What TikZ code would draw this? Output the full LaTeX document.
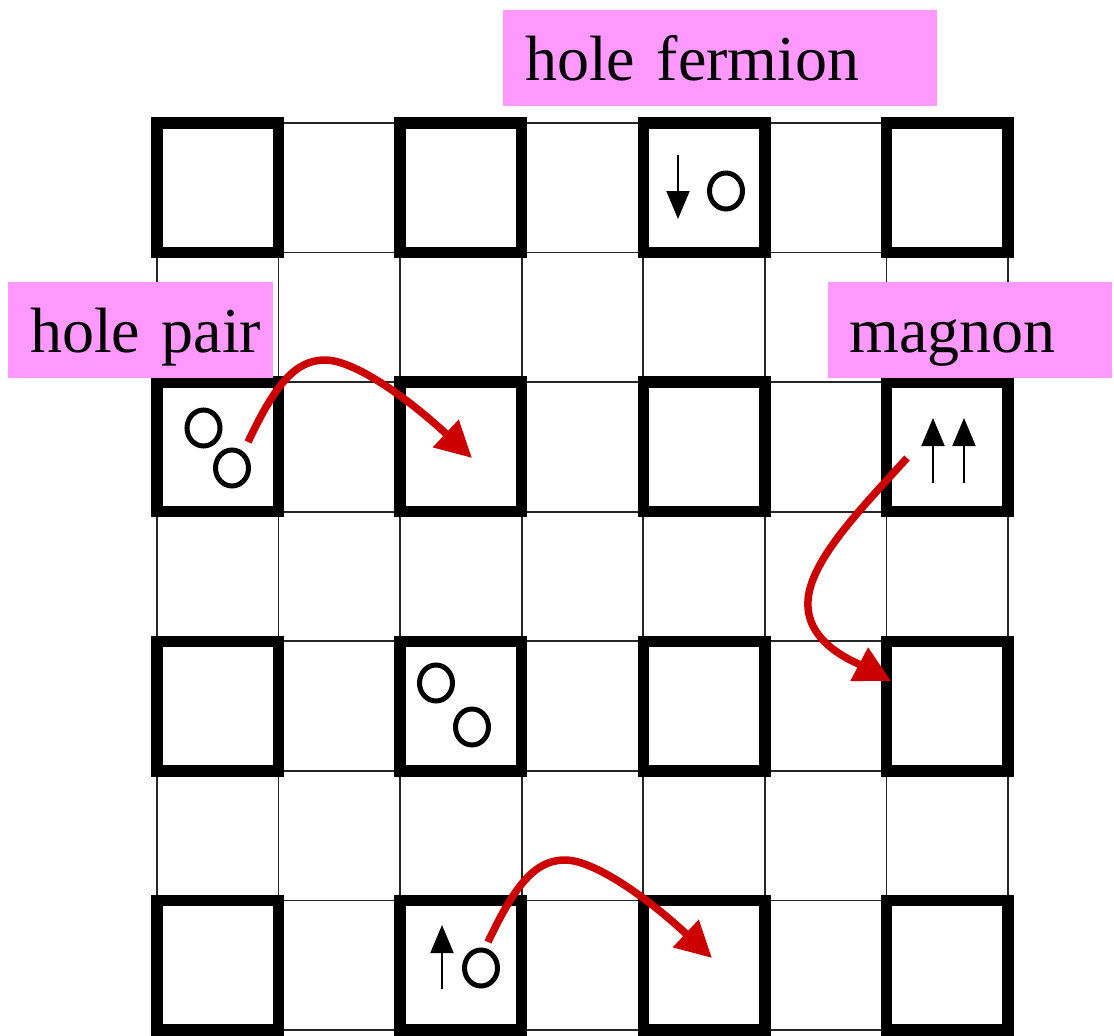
\documentclass[tikz,border=0pt]{standalone}
\usepackage{fontspec}
\setmainfont{Liberation Serif}
\usetikzlibrary{arrows.meta,shapes.geometric}
\definecolor{lblpink}{RGB}{255,153,255}
\definecolor{arrred}{RGB}{204,0,0}
\begin{document}
\begin{tikzpicture}[x=1pt,y=-1pt,
  gridline/.style={line width=1.8pt, black!85},
  site/.style={draw, line width=11.5pt, line join=miter, minimum width=121.57pt, minimum height=129.57pt, inner sep=0pt, outer sep=0pt},
  lbl/.style={fill=lblpink, inner xsep=0pt, inner ysep=0pt, anchor=north west, align=left, font=\fontsize{64pt}{70pt}\selectfont, text height=70pt, text depth=26pt},
  hole/.style={draw, ellipse, line width=5pt, minimum width=33pt, minimum height=36pt, inner sep=0pt},
  spin/.style={line width=2pt, -{Triangle[length=28pt,width=23pt]}},
  hop/.style={arrred, line width=7.5pt, -{Triangle[length=36pt,width=36pt]}}
]
\useasboundingbox (0,0) rectangle (1114,1036);
% thin lattice
\foreach \k in {0,...,7} {
  \draw[gridline] ({157+121.57*\k},123) -- ({157+121.57*\k},1040);
  \draw[gridline] (157,{123+129.57*\k}) -- (1008,{123+129.57*\k});
}
% thick plaquettes
\foreach \i in {0,1,2,3} {
  \foreach \j in {0,1,2,3} {
    \node[site] (s\i\j) at ({157+121.57*(2*\i+0.5)},{123+129.57*(2*\j+0.5)}) {};
  }
}
% labels
\node[lbl, text width=434pt] (fermion) at (503,10) {\hspace*{22pt}hole fermion};
\node[lbl, text width=265pt] (pair) at (8,282) {\hspace*{22pt}hole pair};
\node[lbl, text width=284pt] (magnon) at (828,282) {\hspace*{21pt}magnon};
% holes
\node[hole] (h1) at (726,191) {};
\node[hole] (h2a) at (203.5,428) {};
\node[hole] (h2b) at (232,468) {};
\node[hole] (h3a) at (436,683) {};
\node[hole] (h3b) at (472,727) {};
\node[hole] (h4) at (481,968) {};
% spins
\coordinate (d1s) at (678,155); \coordinate (d1e) at (678,219);
\coordinate (m1s) at (933,483); \coordinate (m1e) at (933,418);
\coordinate (m2s) at (964,483); \coordinate (m2e) at (964,418);
\coordinate (u1s) at (442,989); \coordinate (u1e) at (442,925);
\draw[spin] (d1s) -- (d1e);
\draw[spin] (m1s) -- (m1e);
\draw[spin] (m2s) -- (m2e);
\draw[spin] (u1s) -- (u1e);
% hopping arrows
\coordinate (p1s) at (248,442); \coordinate (p1e) at (472,458);
\coordinate (p2s) at (907,458); \coordinate (p2e) at (891,681);
\coordinate (p3s) at (488,942); \coordinate (p3e) at (712,958);
\draw[hop] (p1s) .. controls (275,385) and (295,360) .. (325,360) .. controls (355,360) and (410,400) .. (p1e);
\draw[hop] (p2s) .. controls (860,510) and (805,565) .. (808,607) .. controls (810,645) and (855,662) .. (p2e);
\draw[hop] (p3s) .. controls (515,885) and (535,860) .. (565,860) .. controls (595,860) and (650,900) .. (p3e);
\end{tikzpicture}
\end{document}
